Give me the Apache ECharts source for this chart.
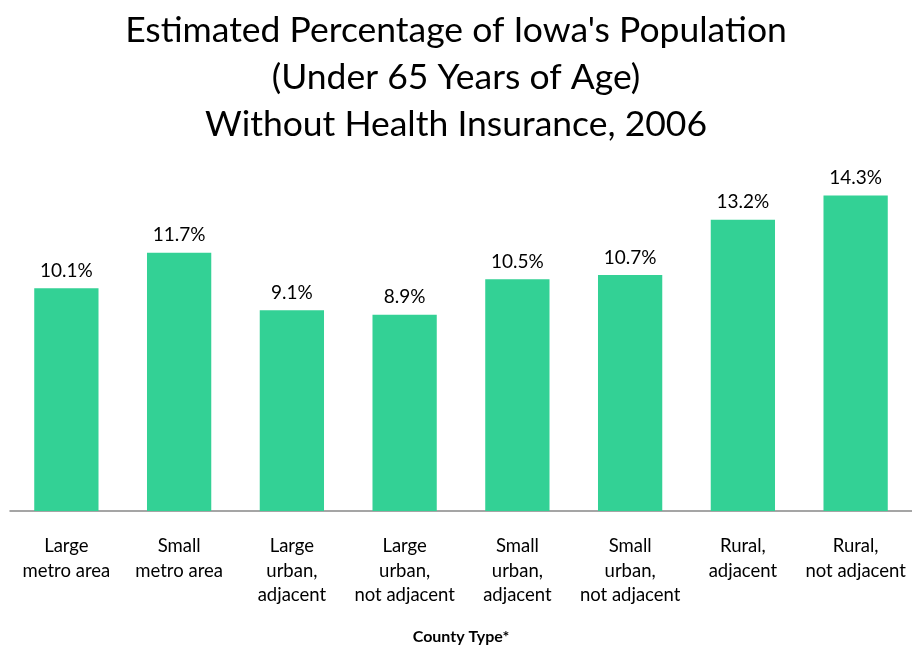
<!DOCTYPE html>
<html>
<head>
<meta charset="utf-8">
<script src="https://cdn.jsdelivr.net/npm/echarts@6/dist/echarts.min.js"></script>
<style>
  html, body { margin: 0; padding: 0; background: #fff; }
  #chart { width: 912px; height: 650px; }
</style>
</head>
<body>
<div id="chart"></div>
<script>
  // county types and uninsured share (%)
  const categories = [
    'Large\nmetro area',
    'Small\nmetro area',
    'Large\nurban,\nadjacent',
    'Large\nurban,\nnot adjacent',
    'Small\nurban,\nadjacent',
    'Small\nurban,\nnot adjacent',
    'Rural,\nadjacent',
    'Rural,\nnot adjacent'
  ]
  const uninsured = [10.1, 11.7, 9.1, 8.9, 10.5, 10.7, 13.2, 14.3]

  const font = 'Lato, "Open Sans", sans-serif'
  let chart = echarts.init(document.getElementById('chart'))
  chart.setOption({
    animation: false,
    title: {
      text: 'Estimated Percentage of Iowa\'s Population\n(Under 65 Years of Age)\nWithout Health Insurance, 2006',
      left: 'center',
      top: 2,
      textStyle: {
        fontFamily: font,
        fontSize: 35.5,
        fontWeight: 'normal',
        color: '#000',
        lineHeight: 47
      }
    },
    grid: {
      left: 10,
      right: 0,
      top: 158,
      bottom: 138
    },
    xAxis: {
      type: 'category',
      data: categories,
      name: 'County Type*',
      nameLocation: 'middle',
      nameGap: 118,
      nameTextStyle: {
        fontFamily: font,
        fontSize: 16,
        fontWeight: 'bold',
        color: '#000'
      },
      axisLine: { lineStyle: { color: '#888', width: 1.5 } },
      axisTick: { show: false },
      axisLabel: {
        interval: 0,
        margin: 23,
        fontFamily: font,
        fontSize: 18.5,
        lineHeight: 24.5,
        color: '#000'
      }
    },
    yAxis: {
      type: 'value',
      min: 0,
      max: 16,
      show: false
    },
    series: [{
      type: 'bar',
      data: uninsured,
      barWidth: '57%',
      itemStyle: { color: '#33D195' },
      label: {
        show: true,
        position: 'top',
        distance: 8,
        formatter: p => p.value.toFixed(1) + '%',
        fontFamily: font,
        fontSize: 19,
        color: '#000'
      }
    }]
  })
</script>
</body>
</html>
